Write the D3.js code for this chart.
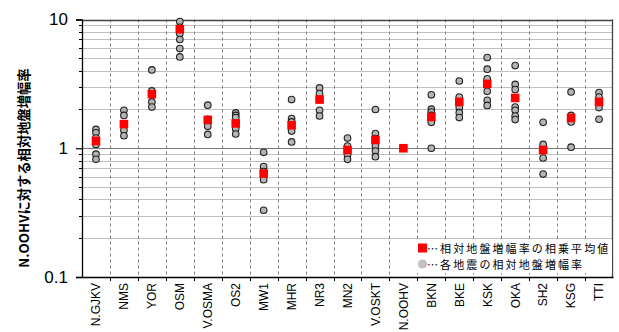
<!DOCTYPE html>
<html>
<head>
<meta charset="utf-8">
<script src="https://cdn.jsdelivr.net/npm/d3@7"></script>
<style>
  html, body { margin: 0; padding: 0; background: #fff; }
  svg { display: block; }
</style>
</head>
<body>
<svg id="chart" width="619" height="332"></svg>
<script>
// Site codes along the x axis
const categories = ["N.GJKV", "NMS", "YOR", "OSM", "V.OSMA", "OS2", "MW1", "MHR", "NR3", "MN2",
  "V.OSKT", "N.OOHV", "BKN", "BKE", "KSK", "OKA", "SH2", "KSG", "TTI"];

// Relative site amplification of each earthquake, per site
const eventValues = [
  [1.40, 1.32, 1.20, 1.07, 0.90, 0.82],
  [1.97, 1.80, 1.51, 1.38, 1.25],
  [4.06, 2.79, 2.60, 2.29, 2.09],
  [9.65, 8.70, 7.78, 6.99, 5.95, 5.12],
  [2.16, 1.68, 1.48, 1.28],
  [1.88, 1.80, 1.73, 1.42, 1.29],
  [0.93, 0.72, 0.66, 0.57, 0.33],
  [2.39, 1.70, 1.60, 1.36, 1.12],
  [2.94, 2.66, 2.39, 1.97, 1.78],
  [1.20, 1.04, 0.96, 0.89, 0.82],
  [2.00, 1.30, 1.19, 1.04, 0.95, 0.86],
  [1.00],
  [2.60, 2.01, 1.91, 1.80, 1.59, 1.00],
  [3.33, 2.50, 2.07, 1.89, 1.73],
  [5.07, 4.11, 3.46, 2.77, 2.36, 2.15],
  [4.39, 3.13, 2.86, 2.09, 1.97, 1.78, 1.67],
  [1.59, 1.07, 0.97, 0.84, 0.63],
  [2.74, 1.80, 1.60, 1.02],
  [2.71, 2.50, 2.07, 1.68]
];

// Geometric mean of the relative site amplification, per site
const geoMeans = [1.14, 1.54, 2.63, 8.41, 1.66, 1.56, 0.636, 1.51, 2.39, 0.97,
  1.16, 1.00, 1.75, 2.29, 3.16, 2.46, 0.97, 1.72, 2.29];

const yTickLabels = ["0.1", "1", "10"];
const yTickValues = [0.1, 1, 10];
const yTitle = "N.OOHVに対する相対地盤増幅率";
const legendLabels = ["…相対地盤増幅率の相乗平均値", "…各地震の相対地盤増幅率"];

const svg = d3.select("#chart");
const plot = { left: 82, right: 613, top: 19.5, bottom: 277 };

const x = d3.scaleBand().domain(categories).range([plot.left, plot.right]);
const y = d3.scaleLog().domain([0.1, 10]).range([plot.bottom, plot.top]);

// Minor grid values (2..9 in each decade)
const minor = [];
[0.1, 1].forEach(b => { for (let k = 2; k <= 9; k++) minor.push(b * k); });

// Horizontal grid
svg.append("g").selectAll("line").data(minor).join("line")
  .attr("x1", plot.left).attr("x2", plot.right)
  .attr("y1", d => Math.round(y(d)) + 0.5).attr("y2", d => Math.round(y(d)) + 0.5)
  .attr("stroke", "#c0c0c0").attr("stroke-width", 1);
svg.append("line")
  .attr("x1", plot.left).attr("x2", plot.right)
  .attr("y1", Math.round(y(1)) + 0.5).attr("y2", Math.round(y(1)) + 0.5)
  .attr("stroke", "#7a7a7a").attr("stroke-width", 1);

// Dashed separators between sites
const bounds = categories.slice(1).map(c => x(c));
svg.append("g").selectAll("line").data(bounds).join("line")
  .attr("x1", d => Math.round(d) + 0.5).attr("x2", d => Math.round(d) + 0.5)
  .attr("y1", plot.top).attr("y2", plot.bottom)
  .attr("stroke", "#7f7f7f").attr("stroke-width", 1).attr("stroke-dasharray", "3,3");

// Bottom tick marks at site boundaries
svg.append("g").selectAll("line").data(bounds).join("line")
  .attr("x1", d => Math.round(d) + 0.5).attr("x2", d => Math.round(d) + 0.5)
  .attr("y1", plot.bottom).attr("y2", plot.bottom + 4)
  .attr("stroke", "#000").attr("stroke-width", 1);

// Frame
svg.append("line").attr("x1", plot.left).attr("x2", plot.right)
  .attr("y1", Math.round(plot.top) + 0.5).attr("y2", Math.round(plot.top) + 0.5)
  .attr("stroke", "#444").attr("stroke-width", 1.3);
svg.append("line").attr("x1", plot.right - 0.5).attr("x2", plot.right - 0.5)
  .attr("y1", plot.top).attr("y2", plot.bottom)
  .attr("stroke", "#444").attr("stroke-width", 1.3);

// Y axis
const yAxis = d3.axisLeft(y).tickValues(yTickValues)
  .tickFormat((d, i) => yTickLabels[i]).tickSize(6).tickPadding(8);
const gy = svg.append("g").attr("transform", `translate(${plot.left},0)`).call(yAxis);
gy.select(".domain").attr("stroke", "#000").attr("stroke-width", 1.3);
gy.selectAll(".tick line").attr("stroke", "#000").attr("stroke-width", 1.2);
gy.selectAll(".tick text")
  .attr("font-family", "Liberation Sans, Arial, sans-serif")
  .attr("font-size", 17).attr("fill", "#000");
svg.append("g").selectAll("line").data(minor).join("line")
  .attr("x1", plot.left - 3).attr("x2", plot.left)
  .attr("y1", d => Math.round(y(d)) + 0.5).attr("y2", d => Math.round(y(d)) + 0.5)
  .attr("stroke", "#000").attr("stroke-width", 1);

// X axis
const xAxis = d3.axisBottom(x).tickSize(0).tickPadding(0);
const gx = svg.append("g").attr("transform", `translate(0,${plot.bottom})`).call(xAxis);
gx.select(".domain").attr("stroke", "#000").attr("stroke-width", 1.3);
gx.selectAll(".tick text")
  .attr("font-family", "Liberation Sans, Arial, sans-serif")
  .attr("font-size", 12).attr("fill", "#000")
  .attr("text-anchor", "end")
  .attr("transform", "rotate(-90)")
  .attr("x", -6).attr("y", 0).attr("dy", "0.36em");

// Y title
svg.append("text")
  .attr("transform", "translate(23,168) rotate(-90)")
  .attr("text-anchor", "middle").attr("dominant-baseline", "central")
  .attr("font-family", "Noto Sans CJK JP, sans-serif")
  .attr("font-weight", "bold").attr("font-size", 13.3).attr("fill", "#000")
  .text(yTitle);

// Legend (white backing box)
const lg = svg.append("g");
lg.append("rect").attr("x", 415).attr("y", 240).attr("width", 197).attr("height", 33).attr("fill", "#fff");
lg.append("rect").attr("x", 418).attr("y", 243.5).attr("width", 9).attr("height", 9).attr("fill", "#ff0000");
lg.append("circle").attr("cx", 422.5).attr("cy", 264).attr("r", 4.6).attr("fill", "#c0c0c0");
lg.selectAll("text").data(legendLabels).join("text")
  .attr("x", 427).attr("y", (d, i) => 248 + i * 16)
  .attr("dominant-baseline", "central")
  .attr("font-family", "Noto Sans CJK JP, sans-serif")
  .attr("font-size", 11).attr("letter-spacing", 2.1).attr("fill", "#000")
  .text(d => d);

// Per-event points
const pts = [];
eventValues.forEach((vals, i) => vals.forEach(v => pts.push({ c: categories[i], v })));
svg.append("g").selectAll("circle").data(pts).join("circle")
  .attr("cx", d => x(d.c) + x.bandwidth() / 2)
  .attr("cy", d => y(d.v))
  .attr("r", 3.3)
  .attr("fill", "#b4b4b4").attr("stroke", "#222").attr("stroke-width", 1.1);

// Geometric means
const sq = 8.6;
svg.append("g").selectAll("rect").data(geoMeans).join("rect")
  .attr("x", (d, i) => x(categories[i]) + x.bandwidth() / 2 - sq / 2)
  .attr("y", d => y(d) - sq / 2)
  .attr("width", sq).attr("height", sq)
  .attr("fill", "#ff0000");
</script>
</body>
</html>
